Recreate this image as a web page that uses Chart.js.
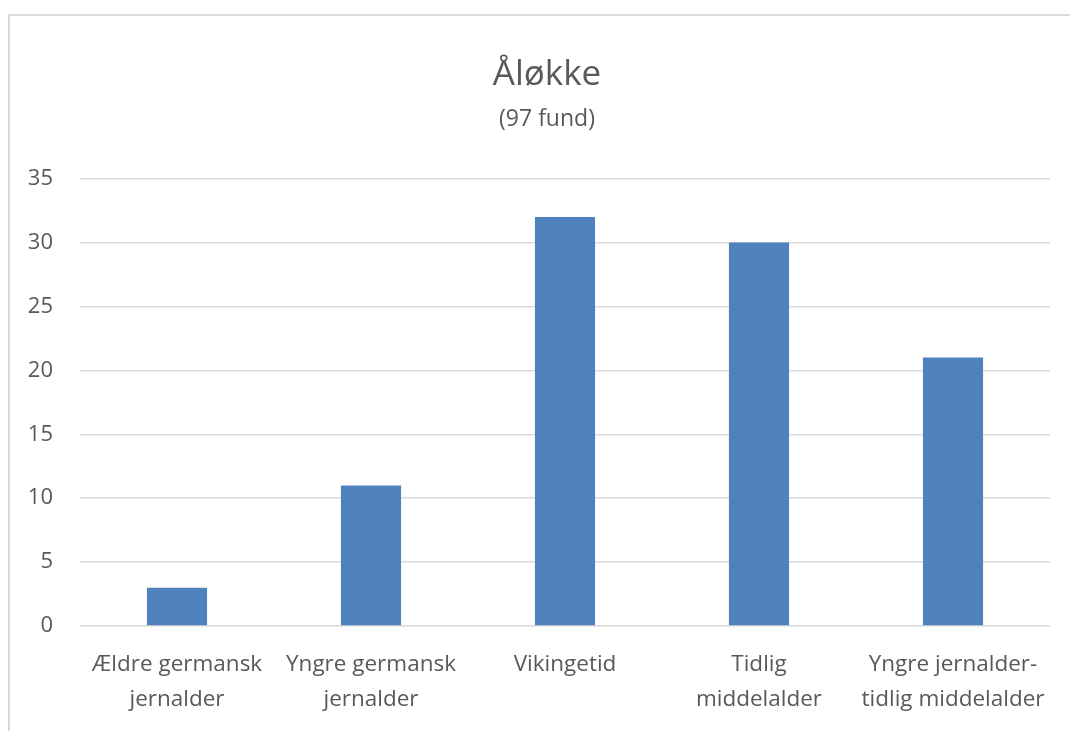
<!DOCTYPE html>
<html>
<head>
<meta charset="utf-8">
<script src="https://cdn.jsdelivr.net/npm/chart.js@4"></script>
<style>
  html, body { margin: 0; padding: 0; background: #fff; }
  #ramme { position: absolute; left: 8px; top: 14px; width: 1100px; height: 800px;
           border-left: 2px solid #d9d9d9; border-top: 2px solid #d9d9d9; }
  #wrap { position: absolute; left: 0; top: 0; width: 1070px; height: 731px; }
</style>
</head>
<body>
<div id="ramme"></div>
<div id="wrap"><canvas id="grafFund"></canvas></div>
<script>
// Åløkke - fund fordelt på periode
const perioder = [
  ['Ældre germansk', 'jernalder'],
  ['Yngre germansk', 'jernalder'],
  'Vikingetid',
  ['Tidlig', 'middelalder'],
  ['Yngre jernalder-', 'tidlig middelalder']
];
const antalFund = [3, 11, 32, 30, 21];
const yTicks = [0, 5, 10, 15, 20, 25, 30, 35];

const tekstFarve = '#595959';
const fontNavn = '"Open Sans", Lato, sans-serif';

// titlerne står lidt til højre for midten i originalen
const flytTitler = {
  id: 'flytTitler',
  afterLayout(chart) {
    chart.boxes.forEach(b => {
      if (b.options && b.options.text !== undefined) b.left = 44;
    });
  }
};

const ctx = document.getElementById('grafFund').getContext('2d');
const graf = new Chart(ctx, {
  type: 'bar',
  data: {
    labels: perioder,
    datasets: [{
      data: antalFund,
      backgroundColor: '#4f81bd',
      categoryPercentage: 1,
      barPercentage: 0.31
    }]
  },
  plugins: [flytTitler],
  options: {
    responsive: true,
    maintainAspectRatio: false,
    animation: false,
    layout: { padding: { left: 0, right: 20, top: 0, bottom: 0 } },
    plugins: {
      legend: { display: false },
      tooltip: { enabled: false },
      title: {
        display: true,
        text: 'Åløkke',
        color: tekstFarve,
        font: { family: fontNavn, size: 35, weight: 'normal' },
        padding: { top: 54, bottom: 10 }
      },
      subtitle: {
        display: true,
        text: '(97 fund)',
        color: tekstFarve,
        font: { family: fontNavn, size: 23, weight: 'normal' },
        padding: { top: 0, bottom: 45 }
      }
    },
    scales: {
      x: {
        grid: { display: false, drawTicks: false },
        border: { display: false },
        ticks: {
          color: tekstFarve,
          font: { family: fontNavn, size: 22.5, lineHeight: 1.55 },
          padding: 21,
          maxRotation: 0,
          autoSkip: false
        },
        afterFit: s => { s.height = 105; }
      },
      y: {
        min: 0,
        max: 35,
        afterBuildTicks: s => { s.ticks = yTicks.map(v => ({ value: v })); },
        grid: { color: '#d9d9d9', lineWidth: 1.5, drawTicks: false },
        border: { display: false },
        ticks: {
          color: tekstFarve,
          font: { family: fontNavn, size: 22 },
          padding: 27
        },
        afterFit: s => { s.width = 80; }
      }
    }
  }
});
</script>
</body>
</html>
